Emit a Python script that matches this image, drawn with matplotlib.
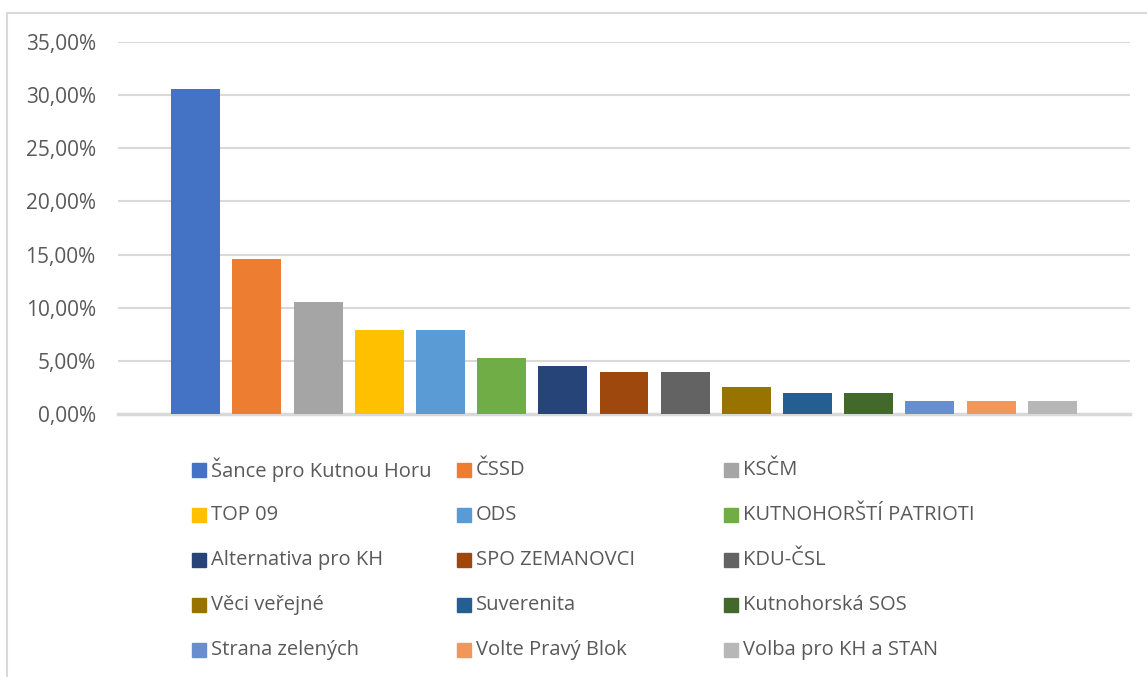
import matplotlib.pyplot as plt
from matplotlib.patches import Rectangle
from matplotlib.ticker import FuncFormatter

# strany a jejich podíl hlasů (v %)
strany = ['Šance pro Kutnou Horu', 'ČSSD', 'KSČM', 'TOP 09', 'ODS',
          'KUTNOHORŠTÍ PATRIOTI', 'Alternativa pro KH', 'SPO ZEMANOVCI',
          'KDU-ČSL', 'Věci veřejné', 'Suverenita', 'Kutnohorská SOS',
          'Strana zelených', 'Volte Pravý Blok', 'Volba pro KH a STAN']
podil = [30.57, 14.60, 10.55, 7.92, 7.92, 5.29, 4.54, 3.98,
         3.98, 2.57, 2.00, 2.00, 1.25, 1.25, 1.25]
barvy = ['#4472C4', '#ED7D31', '#A5A5A5', '#FFC000', '#5B9BD5', '#70AD47',
         '#264478', '#9E480E', '#636363', '#997300', '#255E91', '#43682B',
         '#698ED0', '#F1975A', '#B7B7B7']

plt.rcParams['font.family'] = ['Open Sans', 'DejaVu Sans']
text_col = '#595959'
grid_col = '#D9D9D9'

W, H = 1147, 677
fig = plt.figure(figsize=(W / 100, H / 100), dpi=100)

# rámeček grafu (jako v Excelu)
fig.patches.append(Rectangle((7 / W, -0.1), 1.2, 1.1 - 13 / H, transform=fig.transFigure,
                             fill=False, edgecolor=grid_col, linewidth=1.5))

ax = fig.add_axes([118 / W, 262.7 / H, (1130 - 118) / W, (414.3 - 41.7) / H])
x = range(len(podil))
ax.bar(x, podil, width=0.8, color=barvy, zorder=3)

ax.set_xlim(-1.27, 15.27)
ax.set_ylim(0, 35)
ax.set_yticks(range(0, 36, 5))
ax.yaxis.set_major_formatter(FuncFormatter(lambda v, p: f'{v:.2f}'.replace('.', ',') + '%'))
ax.set_xticks([])
ax.tick_params(axis='y', length=0, pad=16, labelsize=15, labelcolor=text_col)
ax.yaxis.grid(True, color=grid_col, linewidth=1.5, zorder=0)
for s in ['top', 'right', 'left']:
    ax.spines[s].set_visible(False)
ax.spines['bottom'].set_color(grid_col)
ax.spines['bottom'].set_linewidth(2.5)

# legenda ve třech sloupcích
col_x = [192, 457, 724]
row_y = [470, 515, 560, 605, 650]
for i, (nazev, c) in enumerate(zip(strany, barvy)):
    px = col_x[i % 3]
    py = row_y[i // 3]
    fig.patches.append(Rectangle((px / W, 1 - (py + 7) / H), 14 / W, 14 / H,
                                 transform=fig.transFigure, color=c))
    fig.text((px + 19) / W, 1 - py / H, nazev, fontsize=14.5, color=text_col,
             va='center', ha='left')

fig.savefig('out.png', dpi=100)
